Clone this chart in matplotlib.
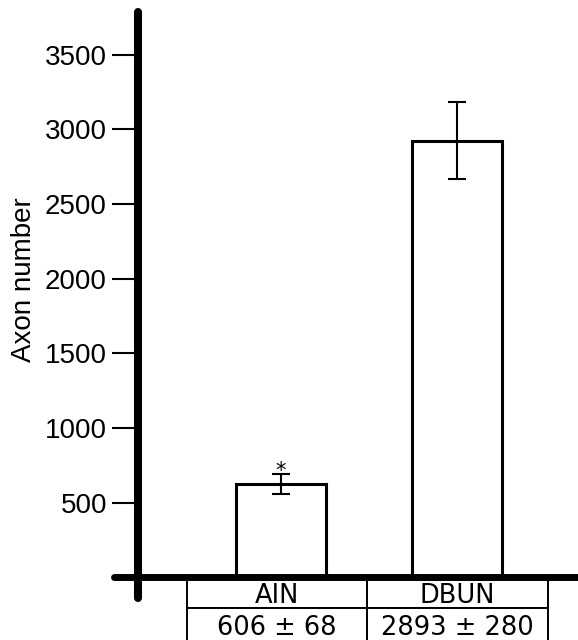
import matplotlib
matplotlib.use("Agg")
import matplotlib.pyplot as plt

# values
groups = ["AIN", "DBUN"]
bar_heights = [625, 2925]
bar_errors = [68, 256]
table_values = ["606 ± 68", "2893 ± 280"]
y_ticks = [500, 1000, 1500, 2000, 2500, 3000, 3500]

fig = plt.figure(figsize=(5.78, 6.4), dpi=100)
ax = fig.add_axes([114 / 578, 42 / 640, 464 / 578, 586 / 640])

x = [0, 1]
ax.bar(x, bar_heights, width=0.51, color="white", edgecolor="black", linewidth=2.2, zorder=2)
ax.errorbar(x, bar_heights, yerr=bar_errors, fmt="none", ecolor="black",
            elinewidth=1.5, capsize=6.5, capthick=1.5, zorder=3)
ax.annotate("*", (x[0], bar_heights[0] + bar_errors[0]), xytext=(0, -2),
            textcoords="offset points", ha="center", va="baseline", fontsize=15)

ax.set_xlim(-0.9456, 1.6864)
ax.set_ylim(-138, 3786)

for s in ["top", "right"]:
    ax.spines[s].set_visible(False)
ax.spines["left"].set_position(("data", -0.8122))
ax.spines["bottom"].set_position(("data", 0))
ax.spines["left"].set_linewidth(5.8)
ax.spines["bottom"].set_linewidth(5.0)
for s in ["left", "bottom"]:
    ax.spines[s].set_capstyle("round")
    ax.spines[s].set_zorder(5)

ax.set_xticks([])
ax.set_yticks(y_ticks)
ax.tick_params(axis="y", direction="out", length=19, width=1.5, pad=3, labelsize=20)
for lbl in ax.get_yticklabels():
    lbl.set_family("Liberation Sans")

ax.set_ylabel("Axon number", fontsize=20, family="Liberation Sans")
ax.yaxis.set_label_coords(-0.165, 0.543)

# table under the axis, second row runs off the bottom edge
x0, x1 = ax.get_xlim()
y0, y1 = ax.get_ylim()
left = (-0.5332 - x0) / (x1 - x0)
right = (1.5159 - x0) / (x1 - x0)
top = (0 - y0) / (y1 - y0)
bottom = top - (30.5 + 35) / 586
tbl = ax.table(cellText=[groups, table_values], cellLoc="center",
               bbox=[left, bottom, right - left, top - bottom])
tbl.auto_set_font_size(False)
tbl.set_fontsize(18.5)
tbl.set_zorder(1)
for (r, c), cell in tbl.get_celld().items():
    cell.set_height(30.5 if r == 0 else 35)
    cell.set_linewidth(1.4)
    cell.set_edgecolor("black")
    cell.set_text_props(va="center_baseline")

fig.savefig("out.png", dpi=100)
